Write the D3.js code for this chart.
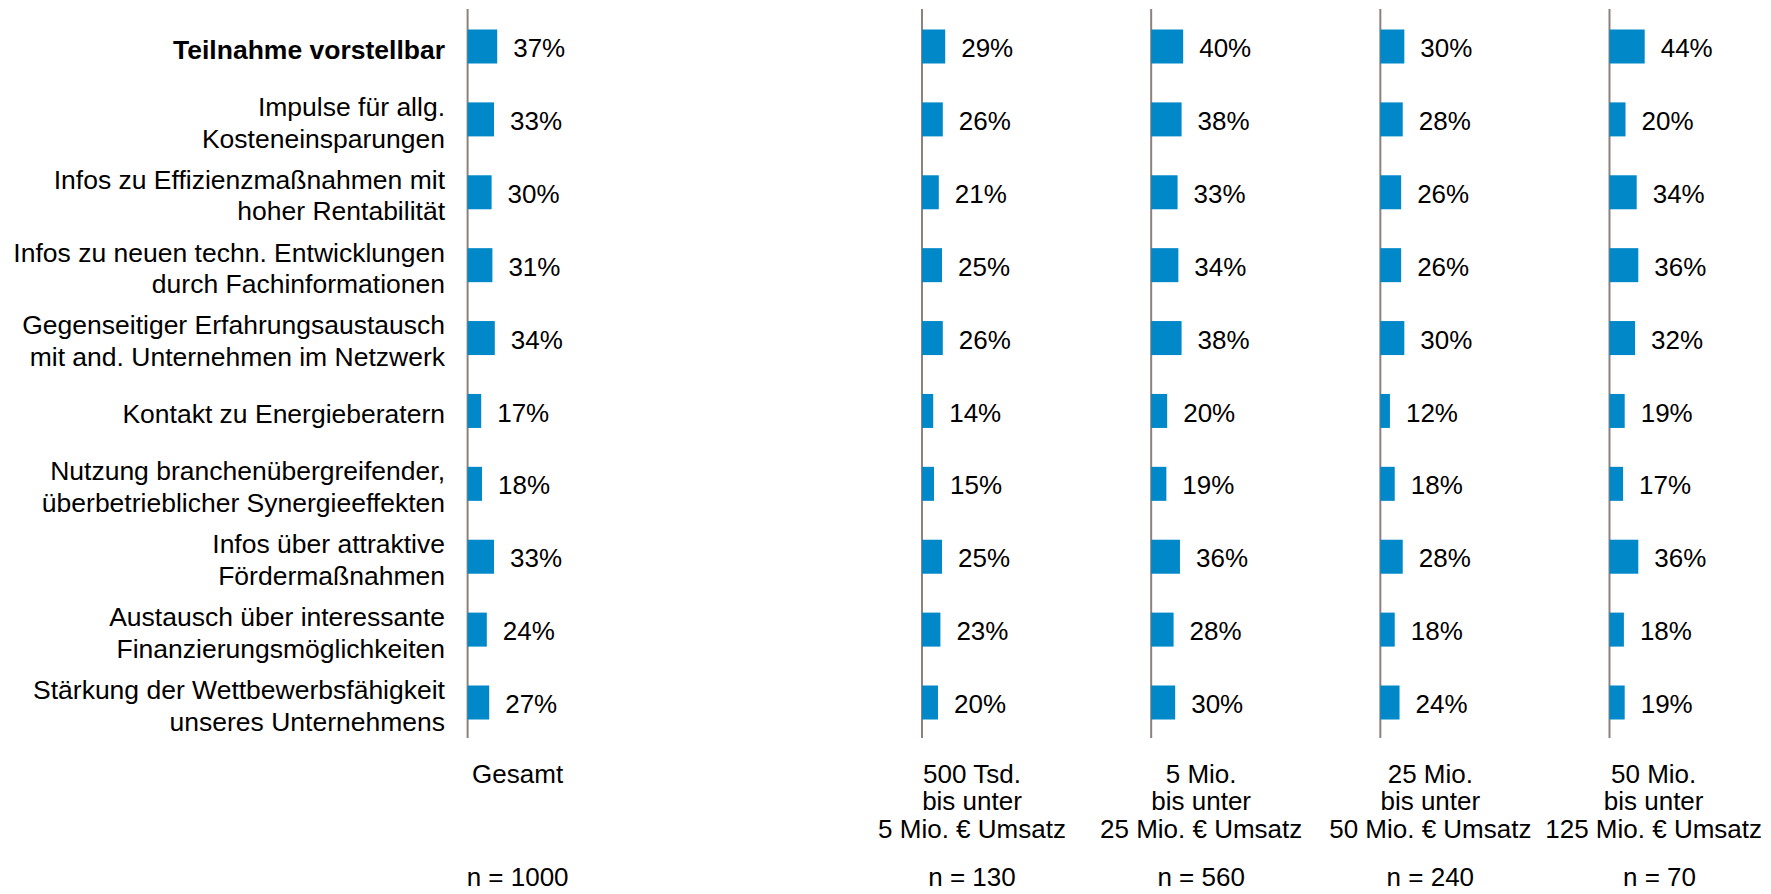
<html>
<head>
<meta charset="utf-8">
<script src="https://d3js.org/d3.v7.min.js"></script>
<style>
    body { margin: 0; background: #fff; }
    text { font-family: "Liberation Sans", Arial, Helvetica, sans-serif; font-size: 26px; fill: #000; }
    .cat text { font-size: 26.5px; }
</style>
</head>
<body>

<svg width="1771" height="894"></svg>

<script>
// Kategorien (mehrzeilig = Array mit Zeilen)
var categories = [
    ['Teilnahme vorstellbar'],
    ['Impulse für allg.', 'Kosteneinsparungen'],
    ['Infos zu Effizienzmaßnahmen mit', 'hoher Rentabilität'],
    ['Infos zu neuen techn. Entwicklungen', 'durch Fachinformationen'],
    ['Gegenseitiger Erfahrungsaustausch', 'mit and. Unternehmen im Netzwerk'],
    ['Kontakt zu Energieberatern'],
    ['Nutzung branchenübergreifender,', 'überbetrieblicher Synergieeffekten'],
    ['Infos über attraktive', 'Fördermaßnahmen'],
    ['Austausch über interessante', 'Finanzierungsmöglichkeiten'],
    ['Stärkung der Wettbewerbsfähigkeit', 'unseres Unternehmens']
]

var groupLabels = [
    ['Gesamt'],
    ['500 Tsd.', 'bis unter', '5 Mio. € Umsatz'],
    ['5 Mio.', 'bis unter', '25 Mio. € Umsatz'],
    ['25 Mio.', 'bis unter', '50 Mio. € Umsatz'],
    ['50 Mio.', 'bis unter', '125 Mio. € Umsatz']
]

var sampleSizes = ['n = 1000', 'n = 130', 'n = 560', 'n = 240', 'n = 70']

// Werte in %
var gesamt  = [37, 33, 30, 31, 34, 17, 18, 33, 24, 27]
var tsd500  = [29, 26, 21, 25, 26, 14, 15, 25, 23, 20]
var mio5    = [40, 38, 33, 34, 38, 20, 19, 36, 28, 30]
var mio25   = [30, 28, 26, 26, 30, 12, 18, 28, 18, 24]
var mio50   = [44, 20, 34, 36, 32, 19, 17, 36, 18, 19]

var series = [gesamt, tsd500, mio5, mio25, mio50]

var svg = d3.select('svg')

var y = d3.scalePoint()
    .domain(d3.range(categories.length))
    .range([46.5, 702.5])

var w = d3.scaleLinear()
    .domain([0, 100])
    .range([0, 80])

// Gesamt steht allein links, die Umsatzklassen gleichmäßig rechts
var gx = d3.scalePoint()
    .domain(d3.range(1, series.length))
    .range([922, 1609.5])

function colX(i){
    return i == 0 ? 467.6 : gx(i)
}

var barH = 34
var lineH = 31.7

// Beschriftung der Kategorien
var cat = svg.append('g')
    .attr('class', 'cat')
    .selectAll('g')
    .data(categories)
    .enter()
    .append('g')
    .attr('transform', function(d, i){ return 'translate(445,' + (y(i) + 3) + ')' })

cat.selectAll('text')
    .data(function(d, i){ return d.map(function(t, k){ return {t: t, k: k, n: d.length, row: i} }) })
    .enter()
    .append('text')
    .attr('text-anchor', 'end')
    .attr('dy', '0.35em')
    .attr('y', function(d){ return (d.k - (d.n - 1) / 2) * lineH })
    .style('font-weight', function(d){ return d.row == 0 ? 'bold' : 'normal' })
    .text(function(d){ return d.t })

// Spalten
var cols = svg.selectAll('g.col')
    .data(series)
    .enter()
    .append('g')
    .attr('class', 'col')
    .attr('transform', function(d, i){ return 'translate(' + colX(i) + ',0)' })

cols.append('line')
    .attr('x1', 0).attr('x2', 0)
    .attr('y1', 9).attr('y2', 738)
    .attr('stroke', '#8c817c')
    .attr('stroke-width', 2)

cols.selectAll('rect')
    .data(function(d){ return d })
    .enter()
    .append('rect')
    .attr('x', 0)
    .attr('y', function(d, i){ return y(i) - barH / 2 })
    .attr('width', function(d){ return w(d) })
    .attr('height', barH)
    .attr('fill', '#0088c8')

cols.selectAll('text.val')
    .data(function(d){ return d })
    .enter()
    .append('text')
    .attr('class', 'val')
    .attr('x', function(d){ return w(d) + 16 })
    .attr('y', function(d, i){ return y(i) + 1.5 })
    .attr('dy', '0.35em')
    .text(function(d){ return d + '%' })

// Spaltenköpfe unten
groupLabels.forEach(function(lines, i){
    var g = svg.append('g')
    var t = g.selectAll('text')
        .data(lines)
        .enter()
        .append('text')
        .attr('text-anchor', 'middle')
        .attr('dy', '0.35em')
        .attr('y', function(d, k){ return 774 + k * 27.3 })
        .text(function(d){ return d })
    var maxW = d3.max(t.nodes(), function(n){ return n.getComputedTextLength() })
    var cx = colX(i) + 50
    if (cx + maxW / 2 > 1762) cx = 1762 - maxW / 2 /* letzte Spalte nicht abschneiden */
    t.attr('x', cx)

    svg.append('text')
        .attr('text-anchor', 'middle')
        .attr('dy', '0.35em')
        .attr('x', colX(i) + 50)
        .attr('y', 877)
        .text(sampleSizes[i])
})
</script>

</body>
</html>
